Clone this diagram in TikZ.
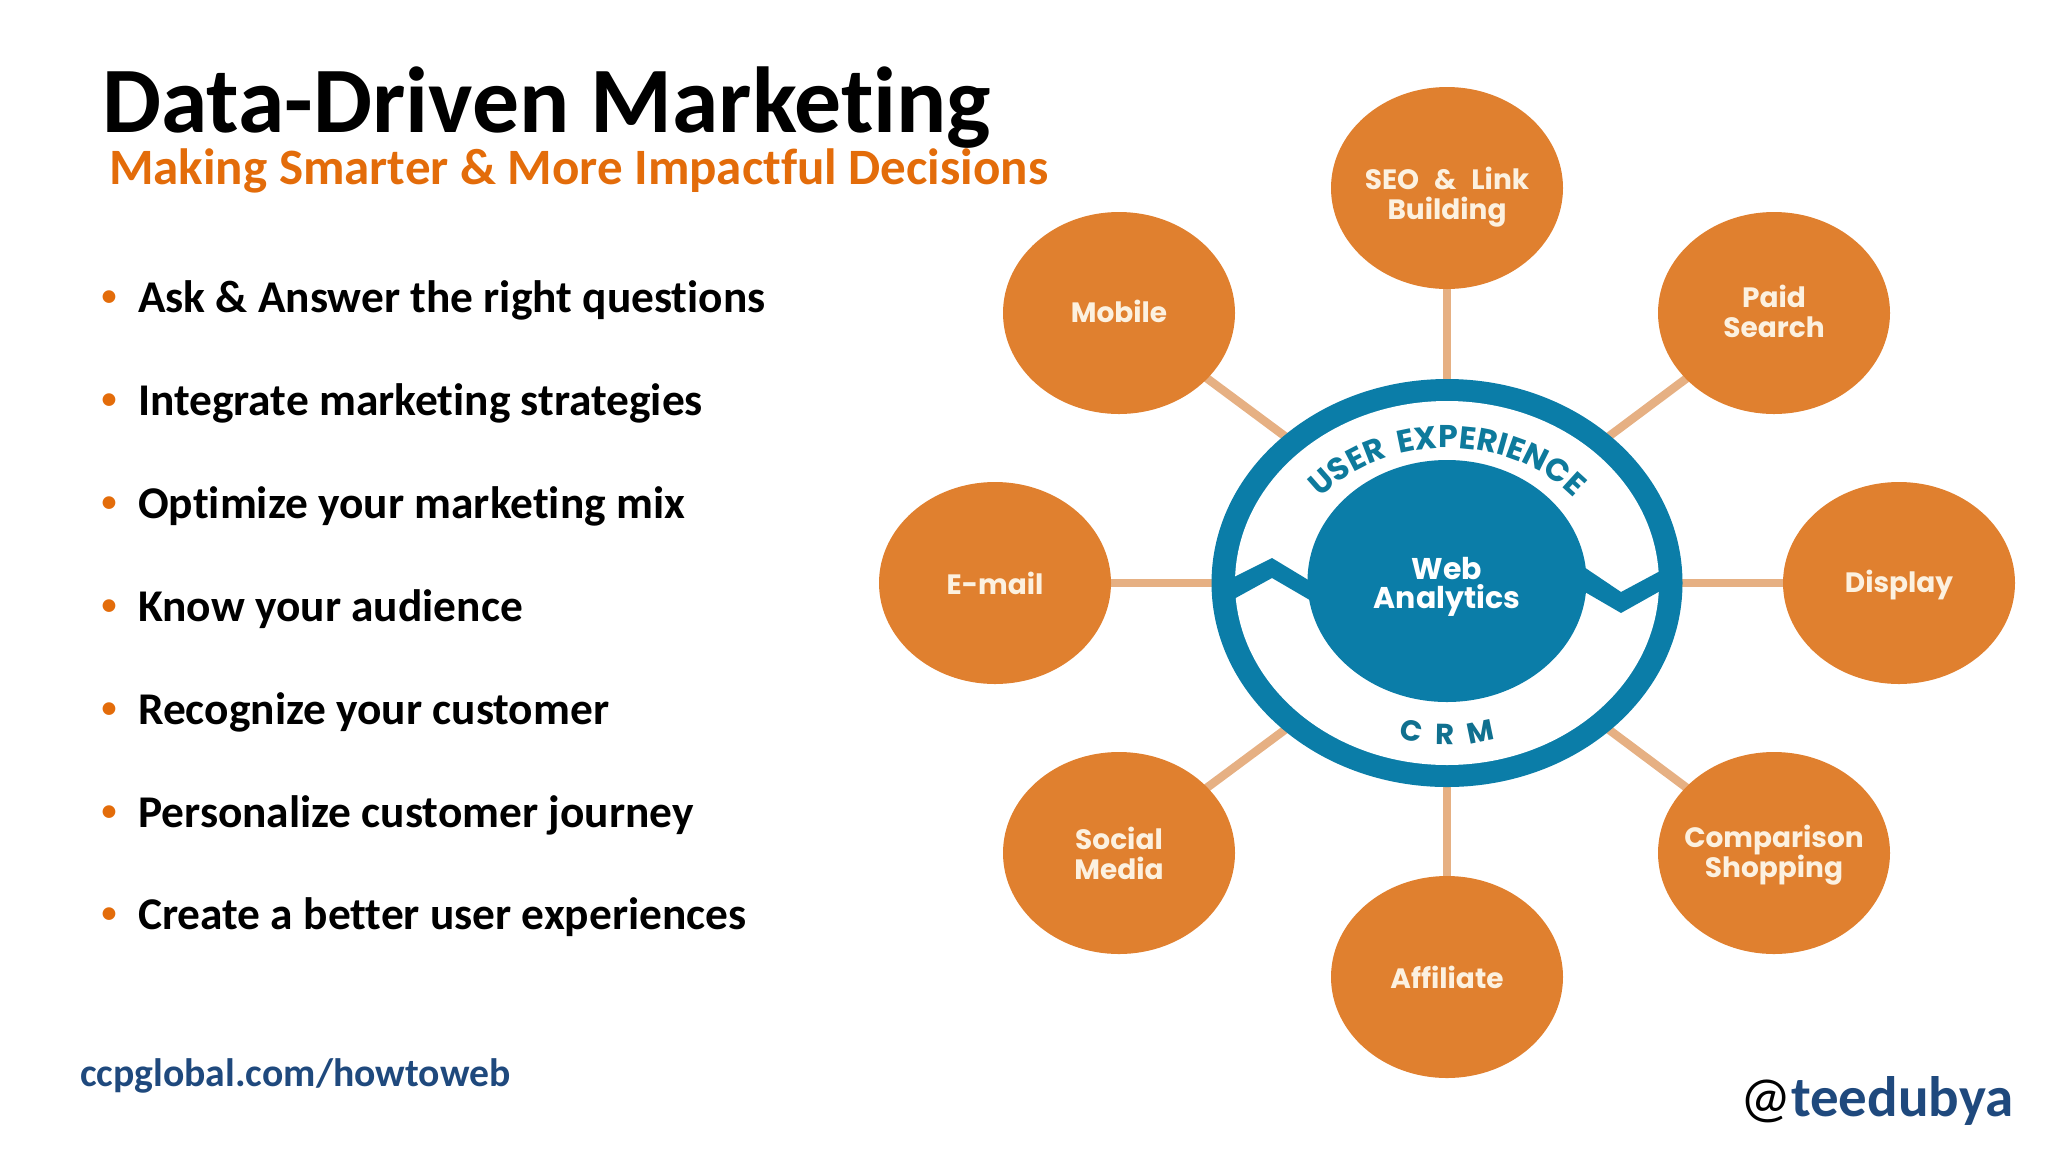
\documentclass[tikz,border=0pt]{standalone}
\usepackage{fontspec}
\setmainfont[Ligatures=CommonOff]{Carlito}
\newfontfamily\popp{Poppins}
\newfontfamily\poppls[LetterSpace=18]{Poppins}
\newfontfamily\poppcrm[LetterSpace=33]{Poppins}
\usetikzlibrary{shapes.geometric,decorations.text,backgrounds}
\definecolor{ringblue}{HTML}{0B7DA8}
\definecolor{tealtext}{HTML}{0E7A9C}
\definecolor{crmtext}{HTML}{10708F}
\definecolor{petal}{HTML}{E0802F}
\definecolor{spokec}{HTML}{E6B083}
\definecolor{cream}{HTML}{FCF1E0}
\definecolor{subor}{HTML}{E36C0A}
\definecolor{linkblue}{HTML}{1F497D}
\newcommand\uxfont{\poppls\bfseries\fontsize{31.5}{32}\selectfont\color{tealtext}}
\newcommand\crmfont{\poppcrm\bfseries\fontsize{29}{30}\selectfont\color{crmtext}}
\tikzset{
  petalnode/.style={ellipse,fill=petal,inner sep=0pt,minimum width=232pt,minimum height=202pt},
  petaltext/.style={inner sep=0pt,text=cream,align=center,font=\popp\bfseries\fontsize{28}{30}\selectfont},
  spoke/.style={draw=spokec,line width=8.5pt,shorten >=-2pt},
  blueblob/.style={ellipse,fill=ringblue,inner sep=0pt},
  title/.style={inner sep=0pt,anchor=base west,font=\bfseries\fontsize{93.7}{94}\selectfont},
  subtitle/.style={inner sep=0pt,anchor=base west,text=subor,font=\bfseries\fontsize{51}{52}\selectfont},
  bul/.style={inner sep=0pt,anchor=base west,text=black,font=\bfseries\fontsize{45.4}{47}\selectfont},
  dot/.style={inner sep=0pt,anchor=base,text=subor,font=\bfseries\fontsize{30}{32}\selectfont},
}
\newcommand\petal[5]{% name, x, y, dy, text
  \node[petalnode] (#1) at (#2,#3) {};
  \node[petaltext] (#1t) at (#2,#3+#4) {#5};
}
\begin{document}
\begin{tikzpicture}[x=1pt,y=-1pt]
\useasboundingbox (0,0) rectangle (2048,1152);
% titles
\node[title] (ttl) at (102,132) {Data-Driven Marketing};
\node[subtitle] (sub) at (109,184) {Making Smarter \& More Impactful Decisions};
% bullets
\foreach \n/\t [count=\i from 0] in {a/Ask \& Answer the right questions,b/Integrate marketing strategies,c/Optimize your marketing mix,d/Know your audience,e/Recognize your customer,f/Personalize customer journey,g/Create a better user experiences}{
  \node[dot] (dot\n) at (109,305.5+102.9*\i) {•};
  \node[bul] (txt\n) at (138,312.5+102.9*\i) {\t};
}
\node[inner sep=0pt,anchor=base west,text=linkblue,font=\bfseries\fontsize{39.7}{40}\selectfont] (link) at (80,1086) {ccpglobal.com/howtoweb};
\node[inner sep=0pt,anchor=base west,text=linkblue,font=\bfseries\fontsize{57}{60}\selectfont] (tw) at (1740,1116) {{\mdseries\color{black}@}teedubya};
% hub
\node[blueblob,minimum width=471pt,minimum height=408pt] (ring) at (1447,583) {};
\node[ellipse,fill=white,inner sep=0pt,minimum width=424pt,minimum height=364pt] (inner) at (1447,583) {};
\fill[ringblue] (1232,578) -- (1272,558) -- (1315,584) -- (1320,606) -- (1272,578) -- (1232,600) -- cycle;
\fill[ringblue] (1578,563) -- (1621,592) -- (1662,570) -- (1662,590) -- (1621,613) -- (1578,588) -- cycle;
\node[blueblob,minimum width=279pt,minimum height=242pt] (hub) at (1447,581) {};
\node[inner sep=0pt,text=white,align=center,font=\popp\bfseries\fontsize{30}{29}\selectfont] (hubt) at (1447,586.5) {Web\\Analytics};
\path[decorate,decoration={text along path,text align=center,text={|\uxfont|USER EXPERIENCE}}]
  ({1447+162*cos(175)},{581-133*sin(175)}) arc[start angle=175,end angle=5,x radius=162pt,y radius=133pt];
\path[decorate,decoration={text along path,text align=center,text={|\crmfont|C R M}}]
  ({1447+170*cos(225)},{581-164*sin(225)}) arc[start angle=225,end angle=315,x radius=170pt,y radius=164pt];
% petals
\petal{seo}{1447}{188}{9}{SEO\hspace{9pt} \& \hspace{9pt}Link\\Building}
\petal{mob}{1119}{313}{-1.3}{Mobile}
\petal{paid}{1774}{313}{-1.3}{Paid\\Search}
\petal{mail}{995}{583}{0}{E-mail}
\petal{disp}{1899}{583}{2}{Display}
\petal{soc}{1119}{853}{0}{Social\\Media}
\petal{comp}{1774}{853}{2.6}{Comparison\\Shopping}
\petal{aff}{1447}{977}{0}{Affiliate}
\coordinate (sm) at (1290,440);
\coordinate (sp) at (1604,440);
\coordinate (ss) at (1290,726);
\coordinate (sc) at (1604,726);
\coordinate (st) at (1447,395);
\coordinate (sb) at (1447,775);
\coordinate (sl) at (1225,583);
\coordinate (sr) at (1670,583);
\begin{pgfonlayer}{background}
\foreach \s/\p in {st/seo,sm/mob,sp/paid,sl/mail,sr/disp,ss/soc,sc/comp,sb/aff}{
  \draw[spoke] (\s) -- (\p);
}
\end{pgfonlayer}
\end{tikzpicture}
\end{document}
